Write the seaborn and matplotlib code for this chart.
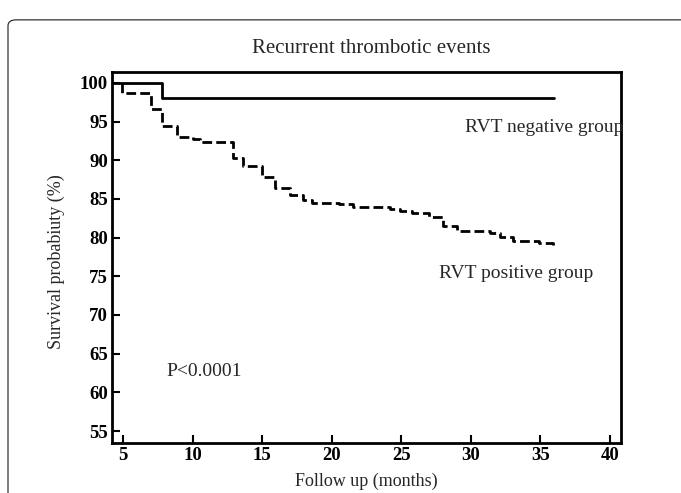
import matplotlib
matplotlib.use("Agg")
import matplotlib.pyplot as plt
from matplotlib.patches import FancyBboxPatch
import seaborn as sns
import pandas as pd

# Kaplan-Meier steps
neg_months = [4.2, 7.8, 36.0]
neg_surv = [100.0, 98.1, 98.1]

pos_months = [4.9, 7.0, 7.8, 8.9, 10.0, 10.5, 12.9, 13.6, 15.0, 15.9, 17.0, 17.9,
              18.6, 20.5, 21.5, 24.2, 24.9, 25.8, 27.0, 28.0, 29.0, 31.4, 32.1,
              33.0, 34.9, 35.9, 36.0]
pos_surv = [98.7, 96.6, 94.4, 93.0, 92.7, 92.4, 90.3, 89.2, 87.8, 86.4, 85.5, 84.8,
            84.5, 84.3, 84.0, 83.7, 83.4, 83.2, 82.7, 81.5, 80.9, 80.6, 80.1,
            79.6, 79.3, 78.9, 78.9]

x_ticks = [5, 10, 15, 20, 25, 30, 35, 40]
y_ticks = [55, 60, 65, 70, 75, 80, 85, 90, 95, 100]

sns.set_style("white")
plt.rcParams['font.family'] = ['Liberation Serif', 'DejaVu Serif']

neg_df = pd.DataFrame({'month': neg_months, 'surv': neg_surv})
pos_df = pd.DataFrame({'month': [4.9] + pos_months, 'surv': [100.0] + pos_surv})

fig = plt.figure(figsize=(6.81, 4.93), dpi=100)
ax = fig.add_axes([112 / 681, 1 - 443 / 493, 509 / 681, 371 / 493])

sns.lineplot(data=neg_df, x='month', y='surv', ax=ax, color='black', lw=2,
             drawstyle='steps-post', sort=False, estimator=None)
sns.lineplot(data=pos_df, x='month', y='surv', ax=ax, color='black', lw=2,
             drawstyle='steps-post', sort=False, estimator=None,
             linestyle=(0, (3.5, 1.5)))

ax.set_xlim(4.2, 40.8)
ax.set_ylim(53.45, 101.4)
ax.set_xticks(x_ticks)
ax.set_yticks(y_ticks)
ax.tick_params(left=True, bottom=True, direction='in', length=6, width=1.5,
               colors='black', labelsize=13.5, pad=3)
for lab in ax.get_xticklabels() + ax.get_yticklabels():
    lab.set_fontweight('bold')
for s in ax.spines.values():
    s.set_visible(True)
    s.set_color('black')
    s.set_linewidth(2)

ax.set_xlabel('Follow up (months)', fontsize=13, labelpad=6)
ax.set_ylabel('Survival probabiuty (%)', fontsize=13)
ax.yaxis.set_label_coords(-0.092, 0.49)
ax.set_title('Recurrent thrombotic events', fontsize=15, pad=14, x=0.51)

ax.annotate('RVT negative group', xy=(465 / 681, 1 - 128 / 493), xycoords='figure fraction',
            fontsize=14, va='center', ha='left')
ax.annotate('RVT positive group', xy=(439 / 681, 1 - 273 / 493), xycoords='figure fraction',
            fontsize=14, va='center', ha='left')
ax.annotate('P<0.0001', xy=(166 / 681, 1 - 372 / 493), xycoords='figure fraction',
            fontsize=14, va='center', ha='left')

# thin rounded frame around the panel, cut off at right and bottom
frame = FancyBboxPatch((8 / 681, -0.2), 1.2, 1.18 - 10 / 493,
                       boxstyle='round,pad=0,rounding_size=0.012',
                       transform=fig.transFigure, fill=False, lw=0.9, ec='#333333')
fig.patches.append(frame)

fig.savefig('out.png', dpi=100)
